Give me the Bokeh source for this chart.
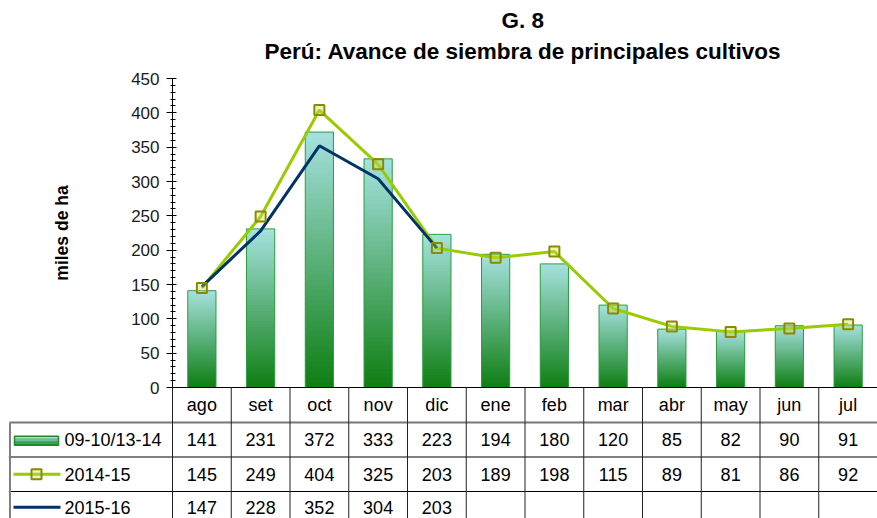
import numpy as np
from bokeh.plotting import figure
from bokeh.models import Range1d, FixedTicker, Title, LinearAxis
from bokeh.embed import file_html
from bokeh.resources import INLINE
from bokeh.core.properties import value

# ---------------- data ----------------
months = ["ago", "set", "oct", "nov", "dic", "ene", "feb", "mar", "abr", "may", "jun", "jul"]
series_names = ["09-10/13-14", "2014-15", "2015-16"]
avg_0910_1314 = [141, 231, 372, 333, 223, 194, 180, 120, 85, 82, 90, 91]
s_2014_15 = [145, 249, 404, 325, 203, 189, 198, 115, 89, 81, 86, 92]
s_2015_16 = [147, 228, 352, 304, 203]
y_ticks = [0, 50, 100, 150, 200, 250, 300, 350, 400, 450]
y_minor = list(range(0, 451, 10))

TITLE = "G. 8"
SUBTITLE = "Perú: Avance de siembra de principales cultivos"
Y_LABEL = "miles de ha"

FONT = "Liberation Sans"
BAR_TOP = np.array([166, 226, 224])
BAR_BOT = np.array([14, 126, 18])
BAR_EDGE = "#2e9e3e"
C1415 = "#99cc00"
C1415_MK = "#8a8a00"
C1516 = "#003366"

def mix(tt):
    c = BAR_BOT + (BAR_TOP - BAR_BOT) * tt
    return "#%02x%02x%02x" % tuple(int(round(v)) for v in c)

# ---------------- layout constants ----------------
W, H = 877, 518
BORDER_L = 8        # page x of the table's left edge
TOP = 66            # frame top (px)
ZERO_Y = 387        # page y of value 0
LEFT_PX = 164       # width of the table's legend column
CHART_PX = 309      # px height of the 0..450 value band
n = len(months)
col_w = (W - BORDER_L - LEFT_PX) / n
xl = -LEFT_PX / col_w
ymax = y_ticks[-1]
ppu = CHART_PX / ymax
y_top = ymax + (ZERO_Y - CHART_PX - TOP) / ppu
y_bot = -(H - ZERO_Y) / ppu

HDR = 35
ROW = 34.5

def X(px):  # px from table's left edge -> data x
    return xl + px / col_w

def Y(px):  # px below the value-axis zero -> data y
    return -px / ppu

p = figure(width=W, height=H, x_range=Range1d(xl, n), y_range=Range1d(y_bot, y_top),
           output_backend="svg", toolbar_location=None, x_axis_location=None,
           y_axis_location=None, min_border_left=BORDER_L, min_border_right=0,
           min_border_bottom=0, min_border_top=TOP, outline_line_color=None, title=TITLE)
p.title.align = "left"
p.title.offset = 493
p.title.text_font = FONT
p.title.text_font_size = "22.5px"
p.title.text_font_style = "bold"
p.title.text_color = "black"
p.title.standoff = 4
p.add_layout(Title(text=SUBTITLE, align="left", offset=256, text_font=FONT,
                   text_font_size="22.5px", text_font_style="bold", text_color="black",
                   standoff=5), "above")
p.xgrid.visible = False
p.ygrid.visible = False

ax = LinearAxis(fixed_location=0, bounds=(0, ymax))
ax.ticker = FixedTicker(ticks=y_ticks, minor_ticks=y_minor)
ax.major_label_text_font = FONT
ax.major_label_text_font_size = "17px"
ax.major_label_text_color = "#1a1a1a"
ax.major_label_standoff = 7
ax.axis_label = Y_LABEL
ax.axis_label_text_font = FONT
ax.axis_label_text_font_size = "17.5px"
ax.axis_label_text_font_style = "bold"
ax.axis_label_text_color = "black"
ax.axis_label_standoff = 56
ax.axis_line_color = "black"
ax.major_tick_line_color = "black"
ax.minor_tick_line_color = "black"
ax.major_tick_in = 4
ax.major_tick_out = 6
ax.minor_tick_in = 3
ax.minor_tick_out = 2
p.add_layout(ax, "left")

# gradient bars
N = 50
bx, bb, bt, bc = [], [], [], []
for i, v in enumerate(avg_0910_1314):
    for k in range(N):
        bx.append(i + 0.5)
        bb.append(v * k / N)
        bt.append(v * min(1.0, (k + 1.7) / N))
        bc.append(mix((k + 0.5) / N))
p.vbar(x=bx, bottom=bb, top=bt, width=0.48, fill_color=bc, line_color=None)
xc = [i + 0.5 for i in range(n)]
p.vbar(x=xc, top=avg_0910_1314, width=0.48, fill_color=None, line_color=BAR_EDGE, line_width=1)

p.line(xc, s_2014_15, line_color=C1415, line_width=3)
p.line(xc[:len(s_2015_16)], s_2015_16, line_color=C1516, line_width=3)
p.scatter(xc, s_2014_15, marker="square", size=10, fill_color="#c8dc50", fill_alpha=0.35,
          line_color=C1415_MK, line_width=2)

# ---------------- data table ----------------
p.segment(x0=[0], y0=[0], x1=[n], y1=[0], line_color="black", line_width=1)
p.segment(x0=[X(1)], y0=[Y(HDR)], x1=[n], y1=[Y(HDR)], line_color="#777777", line_width=2)
p.segment(x0=[xl, xl], y0=[Y(HDR + ROW), Y(HDR + 2 * ROW)], x1=[n, n],
          y1=[Y(HDR + ROW), Y(HDR + 2 * ROW)], line_color="black", line_width=1)
p.segment(x0=list(range(n)), y0=[0] * n, x1=list(range(n)), y1=[y_bot] * n,
          line_color="#222222", line_width=1)
p.segment(x0=[X(1.5)], y0=[Y(HDR)], x1=[X(1.5)], y1=[y_bot], line_color="#808080", line_width=2)

fs = value("18px")
p.text(x=xc, y=[Y(HDR / 2)] * n, text=months, text_align="center", text_baseline="middle",
       text_font=value(FONT), text_font_size=fs, text_color="black")
rows = [avg_0910_1314, s_2014_15, s_2015_16]
for r, vals in enumerate(rows):
    yc = Y(HDR + ROW * r + ROW / 2 - (1.5 if r == 2 else 0))
    p.text(x=xc[:len(vals)], y=[yc] * len(vals), text=[str(v) for v in vals],
           text_align="center", text_baseline="middle", text_font=value(FONT),
           text_font_size=fs, text_color="black")
    p.text(x=[X(56)], y=[yc], text=[series_names[r]], text_align="left",
           text_baseline="middle", text_font=value(FONT), text_font_size=fs, text_color="black")

# legend keys
c1 = HDR + ROW / 2 + 1
K = 6
for k in range(K):
    p.quad(left=[X(6)], right=[X(50)], bottom=[Y(c1 + 4.5 - 9 * k / K)],
           top=[Y(c1 + 4.5 - 9 * (k + 1) / K - 0.3)],
           fill_color=mix((k + 0.5) / K), line_color=None)
p.quad(left=[X(6)], right=[X(50)], bottom=[Y(c1 + 4.5)], top=[Y(c1 - 4.5)],
       fill_color=None, line_color="#1f8a2e", line_width=1.5)

c2 = Y(HDR + ROW + ROW / 2)
p.line([X(5), X(52)], [c2, c2], line_color=C1415, line_width=3)
p.scatter([X(28)], [c2], marker="square", size=10, fill_color="#c8dc50", fill_alpha=0.35,
          line_color=C1415_MK, line_width=2)
c3 = Y(HDR + 2 * ROW + ROW / 2 - 1.5)
p.line([X(5), X(52)], [c3, c3], line_color=C1516, line_width=3)

open("out.html", "w").write(file_html(p, INLINE))
